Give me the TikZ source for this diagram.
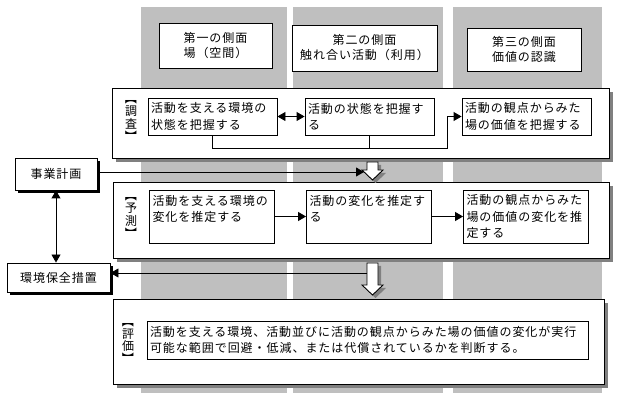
\documentclass[tikz,border=0pt]{standalone}
\usepackage{graphicx}
\usepackage{fontspec}
\setmainfont[LetterSpace=8]{Noto Sans CJK JP}
\usetikzlibrary{positioning,shadows,arrows.meta}
\newcommand{\vopen}{\rotatebox[origin=c]{-90}{【}}
\newcommand{\vclose}{\rotatebox[origin=c]{-90}{】}}

\begin{document}
\begin{tikzpicture}[x=1pt,y=-1pt,line width=.9pt,node distance=157pt,
	font=\fontsize{12}{16.5}\selectfont,
	col/.style={fill=black!25},
	colhead/.style={rectangle,draw,fill=white,align=center,font=\fontsize{12}{15}\selectfont},
	stage/.style={rectangle,draw,fill=white,drop shadow={shadow xshift=4pt,shadow yshift=-4pt,fill=black!50,opacity=1}},
	cell/.style={rectangle,draw,fill=white,align=left,inner xsep=3pt,inner ysep=2pt},
	rowa/.style={cell,text width=123pt,minimum height=37pt},
	rowb/.style={cell,text width=119pt,minimum height=53pt},
	tag/.style={align=center,inner sep=0pt,font=\fontsize{12}{12.5}\selectfont},
	outer/.style={rectangle,draw,fill=white,drop shadow={shadow xshift=3pt,shadow yshift=-3pt,fill=black,opacity=1}},
	hollow/.style={draw,fill=white,drop shadow={shadow xshift=3pt,shadow yshift=-3pt,fill=black!50,opacity=1}},
	oneway/.style={-{Triangle[length=8pt,width=9pt]}},
	twoway/.style={{Triangle[length=8pt,width=9pt]}-{Triangle[length=8pt,width=9pt]}}]
	\useasboundingbox (0,0) rectangle (621,403);
	% columns
	\fill[col] (141,7) rectangle (287,393);
	\fill[col] (293,7) rectangle (443,393);
	\fill[col] (453,7) rectangle (602,393);
	\node[colhead,minimum width=113pt,minimum height=45pt]	(H1) at (215.5,45.5)	{第一の側面\\場（空間）};
	\node[colhead,minimum width=145pt,minimum height=46pt]	(H2) at (364.5,48)	{第二の側面\\触れ合い活動（利用）};
	\node[colhead,minimum width=114pt,minimum height=43pt]	(H3) at (524,49.5)	{第三の側面\\価値の認識};
	% stages
	\node[stage,minimum width=497pt,minimum height=70pt]	(S1) at (360.5,123)	{};
	\node[stage,minimum width=496pt,minimum height=76pt]	(S2) at (361,220)	{};
	\node[stage,minimum width=491pt,minimum height=85pt]	(S3) at (358.5,341.5)	{};
	\node[tag]	(T1) at (131,117.5)	{\vopen\\調\\査\\\vclose};
	\node[tag]	(T2) at (131,214.5)	{\vopen\\予\\測\\\vclose};
	\node[tag]	(T3) at (128,340)	{\vopen\\評\\価\\\vclose};
	\node[rowa]	(A1) at (212.5,116.5)	{活動を支える環境の\\状態を把握する};
	\node[rowa]	(B1) [right of=A1]	{活動の状態を把握す\\る};
	\node[rowa]	(C1) [right of=B1]	{活動の観点からみた\\場の価値を把握する};
	\node[rowb]	(A2) at (212,216.5)	{活動を支える環境の\\変化を推定する\\\mbox{}};
	\node[rowb]	(B2) [right of=A2]	{活動の変化を推定す\\る\\\mbox{}};
	\node[rowb]	(C2) [right of=B2]	{活動の観点からみた\\場の価値の変化を推\\定する};
	\node[cell,text width=435pt,minimum height=38pt]	(E) at (367.5,340)	{活動を支える環境、活動並びに活動の観点からみた場の価値の変化が実行\\可能な範囲で回避・低減、または代償されているかを判断する。};
	% left side
	\node[outer,minimum width=82pt,minimum height=32pt]	(plan) at (56,174)	{事業計画};
	\node[outer,minimum width=103pt,minimum height=29pt]	(measure) at (58.5,277.5)	{環境保全措置};
	% hollow arrows
	\draw[hollow] (367,162) -- (378,162) -- (378,170) -- (383,170) -- (372.5,180) -- (362,170) -- (367,170) -- cycle;
	\draw[hollow] (367,263) -- (378,263) -- (378,285) -- (383,285) -- (372.5,295) -- (362,285) -- (367,285) -- cycle;
	\coordinate (d1) at (364,172);
	\coordinate (d2) at (367,273);
	\coordinate (j) at (447,148);
	\path
	(A1) edge[twoway]	(B1)
	(A2) edge[oneway]	(B2)
	(B2) edge[oneway]	(C2)
	(plan.south) edge[twoway]	(plan.south |- measure.north)
	(plan.east |- d1) edge[oneway]	(d1)
	(d2) edge[oneway]	(d2 -| measure.east)
	;
	\draw[oneway] (A1.south) |- (j) |- (C1.west);
	\draw (B1.south) -- (B1.south |- j);
\end{tikzpicture}
\end{document}
